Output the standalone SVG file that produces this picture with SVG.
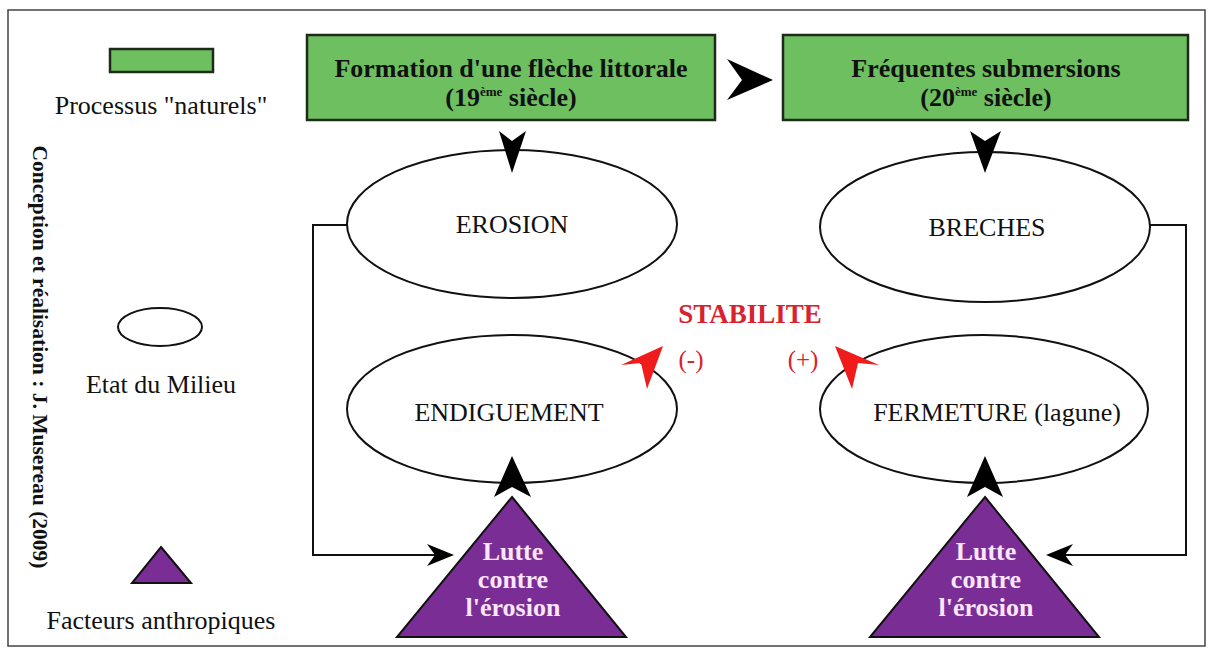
<svg xmlns="http://www.w3.org/2000/svg" width="1213" height="655" viewBox="0 0 1213 655">
<style>
.frame{fill:#fff;stroke:#444;stroke-width:1.5}
.proc{fill:#6dbf5f;stroke:#1e2a1a;stroke-width:2.5}
.etat{fill:#fff;stroke:#111;stroke-width:2}
.anth{fill:#7b2d96;stroke:#111;stroke-width:2}
.t{font-family:"Liberation Serif","Times New Roman",serif;fill:#111}
.tb{font-family:"Liberation Serif","Times New Roman",serif;font-weight:bold;fill:#111}
.tw{font-family:"Liberation Serif","Times New Roman",serif;font-weight:bold;fill:#fbe6fb;font-size:26px}
.red{font-family:"Liberation Serif","Times New Roman",serif;fill:#d8232f}
.line{fill:none;stroke:#111;stroke-width:2}
.head{fill:#000}
.rhead{fill:#f01c1c}
</style>
<rect class="frame" x="8" y="10" width="1197" height="636"/>

<g id="legend">
  <rect class="proc" x="110" y="49" width="103" height="23" stroke-width="2"/>
  <text class="t" x="161" y="114" font-size="26" text-anchor="middle">Processus "naturels"</text>
  <ellipse class="etat" cx="160" cy="327" rx="42" ry="19"/>
  <text class="t" x="161" y="393" font-size="26" text-anchor="middle">Etat du Milieu</text>
  <polygon class="anth" points="161,547 191,583 132,583"/>
  <text class="t" x="161" y="629" font-size="26" text-anchor="middle">Facteurs anthropiques</text>
</g>

<g id="credit">
  <text class="tb" font-size="21.5" text-anchor="middle" transform="translate(33,357) rotate(90)">Conception et réalisation : J. Musereau (2009)</text>
</g>

<g id="box-formation">
  <rect class="proc" x="307" y="35" width="408" height="85"/>
  <text class="tb" x="511" y="77" font-size="26" text-anchor="middle">Formation d'une flèche littorale</text>
  <text class="tb" x="511" y="106" font-size="26" text-anchor="middle">(19<tspan font-size="13" dy="-10">ème</tspan><tspan dy="10"> siècle)</tspan></text>
</g>

<g id="box-submersions">
  <rect class="proc" x="783" y="35" width="405" height="85"/>
  <text class="tb" x="986" y="77" font-size="26" text-anchor="middle">Fréquentes submersions</text>
  <text class="tb" x="986" y="106" font-size="26" text-anchor="middle">(20<tspan font-size="13" dy="-10">ème</tspan><tspan dy="10"> siècle)</tspan></text>
</g>

<g id="ellipse-erosion">
  <ellipse class="etat" cx="512" cy="224" rx="165" ry="74"/>
  <text class="t" x="512" y="233" font-size="26" text-anchor="middle">EROSION</text>
</g>

<g id="ellipse-breches">
  <ellipse class="etat" cx="985" cy="227" rx="165" ry="75"/>
  <text class="t" x="987" y="236" font-size="26" text-anchor="middle">BRECHES</text>
</g>

<g id="ellipse-endiguement">
  <ellipse class="etat" cx="512" cy="409" rx="165" ry="74"/>
  <text class="t" x="509" y="421" font-size="26" text-anchor="middle">ENDIGUEMENT</text>
</g>

<g id="ellipse-fermeture">
  <ellipse class="etat" cx="984" cy="409" rx="164" ry="74"/>
  <text class="t" x="997" y="421" font-size="26" text-anchor="middle">FERMETURE (lagune)</text>
</g>

<g id="stabilite">
  <text class="red" x="750" y="323" font-size="27" font-weight="bold" text-anchor="middle">STABILITE</text>
  <text class="red" x="691" y="368" font-size="25" text-anchor="middle" fill="#c02a3a">(-)</text>
  <text class="red" x="803" y="368" font-size="25" text-anchor="middle" fill="#c02a3a">(+)</text>
</g>

<g id="triangle-left">
  <polygon class="anth" points="512,497 626,637 397,637"/>
  <text class="tw" x="513" y="560" text-anchor="middle">Lutte</text>
  <text class="tw" x="513" y="588" text-anchor="middle">contre</text>
  <text class="tw" x="513" y="616" text-anchor="middle">l'érosion</text>
</g>

<g id="triangle-right">
  <polygon class="anth" points="985,497 1099,637 870,637"/>
  <text class="tw" x="986" y="560" text-anchor="middle">Lutte</text>
  <text class="tw" x="986" y="588" text-anchor="middle">contre</text>
  <text class="tw" x="986" y="616" text-anchor="middle">l'érosion</text>
</g>

<g id="connectors">
  <path class="head" d="M727,59 L773,80 L727,100 L742,80 Z"/>
  <path class="head" d="M499,131 L512,141 L526,131 L512,173 Z"/>
  <path class="head" d="M970,131 L985,141 L1001,131 L985,173 Z"/>
  <path class="head" d="M512,456 L531,497 L512,487 L494,497 Z"/>
  <path class="head" d="M985,456 L1003,497 L985,487 L967,497 Z"/>
  <polyline class="line" points="347,225 313,225 313,555 440,555"/>
  <path class="head" d="M454,555 L427,544 L435,555 L427,566 Z"/>
  <polyline class="line" points="1150,225 1186,225 1186,555 1060,555"/>
  <path class="head" d="M1046,555 L1073,544 L1065,555 L1073,566 Z"/>
  <path class="rhead" d="M663,346 L647,389 L641,363 L621,365 Z"/>
  <path class="rhead" d="M835,346 L879,365 L858,363 L852,389 Z"/>
</g>
</svg>
